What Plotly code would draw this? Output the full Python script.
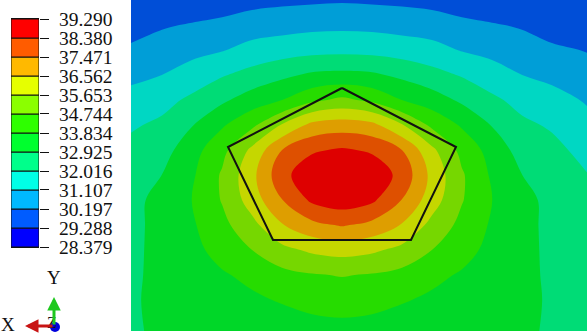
import plotly.graph_objects as go

# Field positions (image-aligned model coordinates)
x_pos = [131, 162, 192, 222, 252, 282, 312, 342, 372, 402, 432, 462, 492, 522, 552, 587]
y_pos = [0, 25, 50, 75, 100, 125, 150, 175, 200, 225, 250, 275, 300, 331]

# Temperature field read from the isotherms
temperature = [
    [29.30, 29.35, 29.50, 29.70, 29.90, 30.00, 30.05, 30.10, 30.05, 30.00, 29.90, 29.70, 29.50, 29.35, 29.30, 29.30],
    [29.75, 30.10, 30.27, 30.42, 30.64, 30.75, 30.86, 30.89, 30.86, 30.75, 30.64, 30.42, 30.27, 30.10, 29.75, 29.69],
    [30.37, 30.62, 30.85, 31.05, 31.42, 31.60, 31.73, 31.79, 31.73, 31.60, 31.42, 31.05, 30.85, 30.62, 30.37, 30.15],
    [30.88, 31.11, 31.49, 31.94, 32.32, 32.72, 33.08, 33.15, 33.08, 32.72, 32.32, 31.94, 31.49, 31.11, 30.88, 30.58],
    [31.43, 31.72, 32.20, 32.76, 33.36, 33.83, 34.53, 34.95, 34.53, 33.83, 33.36, 32.76, 32.20, 31.72, 31.43, 31.02],
    [31.90, 32.20, 32.88, 33.72, 34.55, 35.71, 36.82, 37.02, 36.82, 35.71, 34.55, 33.72, 32.88, 32.20, 31.90, 31.38],
    [32.27, 32.56, 33.48, 34.46, 35.85, 37.47, 38.25, 38.50, 38.25, 37.47, 35.85, 34.46, 33.48, 32.56, 32.27, 31.72],
    [32.51, 32.93, 33.70, 34.85, 36.30, 38.10, 39.00, 39.10, 39.00, 38.10, 36.30, 34.85, 33.70, 32.93, 32.51, 32.05],
    [32.65, 33.23, 33.84, 34.80, 36.08, 37.45, 38.55, 38.90, 38.55, 37.45, 36.08, 34.80, 33.84, 33.23, 32.65, 32.30],
    [32.69, 33.21, 33.72, 34.49, 35.38, 36.50, 37.23, 37.55, 37.23, 36.50, 35.38, 34.49, 33.72, 33.21, 32.69, 32.40],
    [32.73, 33.19, 33.61, 34.12, 34.74, 35.40, 35.81, 35.99, 35.81, 35.40, 34.74, 34.12, 33.61, 33.19, 32.73, 32.45],
    [32.78, 33.15, 33.45, 33.75, 34.03, 34.47, 34.68, 34.79, 34.68, 34.47, 34.03, 33.75, 33.45, 33.15, 32.78, 32.50],
    [32.84, 33.10, 33.30, 33.51, 33.70, 33.90, 34.12, 34.21, 34.12, 33.90, 33.70, 33.51, 33.30, 33.10, 32.84, 32.55],
    [32.87, 33.00, 33.10, 33.20, 33.30, 33.40, 33.50, 33.55, 33.50, 33.40, 33.30, 33.20, 33.10, 33.00, 32.87, 32.60],
]

# Outline of the pentagon
pentagon_x = [342, 456, 411, 273, 228, 342]
pentagon_y = [88, 147, 240, 240, 147, 88]

# Legend levels, low to high
levels = [28.379, 29.288, 30.197, 31.107, 32.016, 32.925, 33.834,
          34.744, 35.653, 36.562, 37.471, 38.380, 39.290]
level_labels = ["28.379", "29.288", "30.197", "31.107", "32.016", "32.925", "33.834",
                "34.744", "35.653", "36.562", "37.471", "38.380", "39.290"]
legend_colors = ["#0000ff", "#005cff", "#00b9ff", "#00ffe6", "#00ff8b", "#00ff2e",
                 "#2eff00", "#8bff00", "#e6ff00", "#ffb900", "#ff5c00", "#ff0000"]
field_colors = ["#0000d7", "#004ed7", "#009ed7", "#00d7c3", "#00dc76", "#00d728",
                "#26dc00", "#76d700", "#c5d700", "#de9e00", "#de5000", "#de0000"]

W, H = 587, 334
n = len(field_colors)
scale = []
for i, c in enumerate(field_colors):
    scale.append([i / n, c])
    scale.append([(i + 1) / n, c])

fig = go.Figure()
fig.add_trace(go.Contour(
    x=x_pos, y=y_pos, z=temperature,
    zmin=levels[0], zmax=levels[-1], colorscale=scale, showscale=False,
    autocontour=False,
    contours=dict(start=levels[0], end=levels[-1], size=(levels[-1] - levels[0]) / n,
                  coloring="fill", showlines=False),
    line=dict(width=0), xaxis="x", yaxis="y", hoverinfo="skip",
))
fig.add_trace(go.Scatter(
    x=pentagon_x, y=pentagon_y, mode="lines",
    line=dict(color="#111111", width=2), xaxis="x", yaxis="y", hoverinfo="skip",
))
fig.add_trace(go.Bar(
    x=[0.5] * n, y=[levels[i + 1] - levels[i] for i in range(n)], base=levels[:-1],
    width=1, marker=dict(color=legend_colors, line=dict(color="#111111", width=1)),
    xaxis="x2", yaxis="y2", hoverinfo="skip",
))

serif = "Liberation Serif"
def px(v): return v / W
def py(v): return 1 - v / H

def label(text, x, y, size):
    return dict(text=text, x=px(x), y=py(y), xref="paper", yref="paper", showarrow=False,
                xanchor="center", yanchor="middle",
                font=dict(family=serif, size=size, color="#111111"))

fig.update_layout(
    template="none",
    width=W, height=H, margin=dict(l=0, r=0, t=0, b=0, pad=0, autoexpand=False), showlegend=False,
    paper_bgcolor="white", plot_bgcolor="white", barmode="overlay",
    xaxis=dict(domain=[px(130), 1], range=[130, 587], side="top", showgrid=False,
               zeroline=False, showticklabels=False, ticks="", showline=True, automargin=False,
               linecolor="#808080", linewidth=2, anchor="y"),
    yaxis=dict(domain=[py(331), 1], range=[331, 0], showgrid=False, zeroline=False,
               showticklabels=False, ticks="", anchor="x", automargin=False),
    xaxis2=dict(domain=[px(11), px(39)], range=[0, 1], showgrid=False, zeroline=False,
                showticklabels=False, ticks="", anchor="y2", showline=True, automargin=False,
                linecolor="#111111", linewidth=1, mirror=True),
    yaxis2=dict(domain=[py(247), py(19)], range=[levels[0], levels[-1]], side="right",
                tickmode="array", tickvals=levels, ticktext=level_labels, automargin=False,
                ticks="outside", ticklen=9, tickwidth=1, tickcolor="#111111",
                ticklabelstandoff=6, showgrid=False, zeroline=False, anchor="x2",
                tickfont=dict(family=serif, size=19.5, color="#111111")),
    annotations=[
        label("Y", 54, 277, 19),
        label("X", 8, 324, 19),
        label("Z", 52, 322, 16),
        dict(text="", x=px(25), y=py(326), xref="paper", yref="paper", ax=29, ay=0,
             showarrow=True, arrowhead=2, arrowsize=0.9, arrowwidth=3, arrowcolor="#c81414"),
        dict(text="", x=px(54), y=py(297), xref="paper", yref="paper", ax=0, ay=29,
             showarrow=True, arrowhead=2, arrowsize=0.9, arrowwidth=3, arrowcolor="#1ec81e"),
    ],
    shapes=[dict(type="circle", xref="paper", yref="paper", x0=px(50), x1=px(60),
                 y0=py(332), y1=py(322), fillcolor="#0000dc", line=dict(width=0))],
)
fig.write_html("out.html", config={"displayModeBar": False},
               post_script="document.body.style.margin='0';document.documentElement.style.overflow='hidden';")
